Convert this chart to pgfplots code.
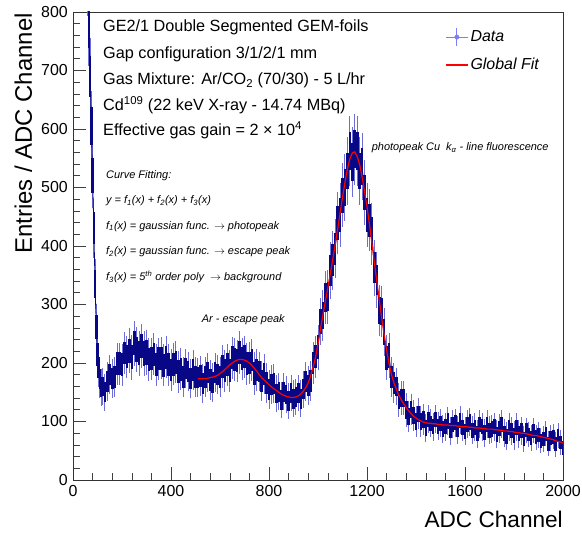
\documentclass[border=0pt]{standalone}
\usepackage{fontspec}
\setmainfont{Liberation Sans}
\usepackage{pgfplots}
\usepackage{pgfplotstable}
\pgfplotsset{compat=1.18}
\definecolor{dataLight}{RGB}{110,110,215}
\definecolor{dataDark}{RGB}{8,8,135}
\definecolor{dataLegend}{RGB}{125,125,250}
\definecolor{fitRed}{RGB}{255,0,0}

\pgfplotstableread{
x y e
60 860 28
65 775 28
70 690 27
75 605 25
80 520 23
85 430 21
90 335 18
95 262 16
100 215 15
105 192 14
110 172 13
115 158 13
120 160 13
130 150 13
140 168 14
150 180 14
160 174 14
170 176 14
180 199 15
190 199 15
200 197 15
210 217 15
220 211 15
230 221 16
240 210 16
250 234 16
260 223 16
270 217 16
280 229 16
290 216 16
300 218 16
310 206 15
320 207 15
330 215 15
340 197 15
350 207 15
360 208 15
370 196 15
380 210 15
390 197 15
400 188 15
410 198 15
420 201 15
430 185 15
440 189 15
450 176 14
460 191 14
470 186 14
480 174 14
490 188 14
500 176 14
510 175 14
520 178 14
530 165 14
540 176 14
550 184 14
560 171 14
570 167 14
580 184 14
590 180 14
600 176 14
610 194 15
620 187 15
630 197 15
640 187 15
650 209 15
660 206 15
670 204 15
680 218 15
690 207 15
700 211 15
710 199 15
720 200 15
730 205 15
740 182 15
750 188 15
760 185 14
770 169 14
780 181 14
790 166 14
800 155 14
810 163 14
820 165 14
830 148 13
840 151 13
850 137 13
860 151 13
870 146 13
880 135 13
890 149 13
900 139 13
910 142 13
920 149 13
930 139 13
940 155 13
950 168 14
960 162 14
970 169 14
980 200 15
990 211 15
1000 227 16
1010 271 17
1020 281 18
1030 312 19
1040 313 19
1050 358 20
1060 376 21
1070 395 21
1080 439 22
1090 453 23
1100 487 23
1110 500 24
1120 528 24
1130 563 25
1140 544 25
1150 565 25
1160 562 25
1170 528 24
1180 536 24
1190 491 23
1200 453 23
1210 444 22
1220 421 22
1230 363 20
1240 342 20
1250 290 18
1260 288 18
1270 253 17
1280 209 16
1290 213 16
1300 176 14
1310 166 14
1320 160 13
1330 137 12
1340 140 12
1350 140 12
1360 120 12
1370 109 11
1380 120 11
1390 110 11
1400 100 11
1410 113 11
1420 100 11
1430 104 11
1440 89 10
1450 104 10
1460 97 10
1470 91 10
1480 104 10
1490 92 10
1500 97 10
1510 87 10
1520 91 10
1530 101 10
1540 84 10
1550 95 10
1560 98 10
1570 86 10
1580 102 10
1590 90 10
1600 83 10
1610 95 10
1620 99 10
1630 85 10
1640 90 10
1650 79 10
1660 95 10
1670 91 10
1680 81 10
1690 95 10
1700 85 10
1710 87 10
1720 91 10
1730 78 10
1740 88 10
1750 95 10
1760 80 10
1770 75 10
1780 90 10
1790 84 10
1800 76 10
1810 90 10
1820 79 10
1830 84 10
1840 70 9
1850 85 9
1860 78 9
1870 72 9
1880 84 9
1890 73 9
1900 77 9
1910 67 9
1920 70 9
1930 79 9
1940 62 9
1950 72 9
1960 74 9
1970 61 9
1980 76 9
1990 64 9
2000 55 9
}\datatab

\pgfplotstableread{
x y
510 173
520 173
530 173
540 173
550 174
560 175
570 176
580 177
590 179
600 182
610 185
620 189
630 193
640 197
650 200
660 203
670 205
680 206
690 206
700 205
710 203
720 200
730 196
740 191
750 186
760 180
770 175
780 171
790 167
800 163
810 159
820 156
830 153
840 150
850 147
860 145
870 143
880 142
890 141
900 141
910 142
920 144
930 147
940 152
950 158
960 166
970 178
980 193
990 210
1000 233
1010 258
1020 282
1030 305
1040 328
1050 352
1060 377
1070 402
1080 428
1090 456
1100 483
1110 509
1120 532
1130 549
1140 559
1150 561
1160 553
1170 539
1180 518
1190 493
1200 467
1210 437
1220 405
1230 372
1240 340
1250 308
1260 277
1270 248
1280 222
1290 199
1300 180
1310 166
1320 155
1330 145
1340 137
1350 130
1360 124
1370 118
1380 113
1390 109
1400 106
1410 103
1420 101
1430 99
1440 98
1450 97
1460 97
1470 96
1480 96
1490 95
1500 95
1510 94
1520 94
1530 94
1540 93
1550 93
1560 93
1570 92
1580 92
1590 91
1600 91
1610 91
1620 90
1630 90
1640 89
1650 89
1660 89
1670 88
1680 88
1690 87
1700 87
1710 87
1720 86
1730 86
1740 85
1750 85
1760 84
1770 84
1780 83
1790 83
1800 82
1810 81
1820 81
1830 80
1840 80
1850 79
1860 78
1870 77
1880 76
1890 76
1900 75
1910 74
1920 73
1930 72
1940 71
1950 70
1960 69
1970 67
1980 66
1990 65
2000 63
}\fittab

\begin{document}
\begin{tikzpicture}
\useasboundingbox (-73bp,-55bp) rectangle (509bp,480bp);
\begin{axis}[
  at={(0,0)}, anchor=south west,
  scale only axis, width=490bp, height=468bp,
  xmin=0, xmax=2000, ymin=0, ymax=800,
  xtick={0,400,...,2000}, ytick={0,100,...,800},
  minor x tick num=4, minor y tick num=4,
  tick align=inside, tick pos=left,
  major tick length=13bp, minor tick length=7bp,
  every tick/.style={black!75, line width=0.6bp},
  axis line style={black!80, line width=0.7bp},
  scaled ticks=false,
  /pgf/number format/1000 sep={},
  /pgf/number format/assume math mode=true,
  tick label style={font=\fontsize{16}{19}\selectfont},
  yticklabel style={anchor=east, inner sep=0pt, xshift=-5bp},
  xticklabel style={anchor=north, inner sep=0pt, yshift=-5bp},
  legend style={at={(0.753,0.974)}, anchor=north west, draw=none, fill=none,
    font=\itshape\fontsize{16}{19}\selectfont, row sep=6bp,
    nodes={inner ysep=4.5bp},
    /tikz/every even column/.append style={column sep=6bp}},
  legend cell align=left,
]
\addlegendimage{legend image code/.code={
  \draw[dataLegend, line width=1bp] (0bp,0bp) -- (22bp,0bp);
  \draw[dataLegend, line width=1bp] (11bp,-9bp) -- (11bp,9bp);
  \fill[dataLegend] (11bp,0bp) circle (2.2bp);}}
\addlegendentry{Data}
\addlegendimage{legend image code/.code={
  \draw[fitRed, line width=1.4bp] (0bp,0bp) -- (22bp,0bp);}}
\addlegendentry{Global Fit}
\addplot[draw=none, mark=none, forget plot,
  error bars/.cd, y dir=both, y explicit, error mark=none,
  error bar style={draw=dataLight, line width=1.0bp}]
  table[x=x, y=y, y error expr=2.4*\thisrow{e}] {\datatab};
\addplot[draw=none, mark=none, forget plot,
  error bars/.cd, y dir=both, y explicit, error mark=none,
  error bar style={draw=dataDark, line width=2.6bp}]
  table[x=x, y=y, y error expr=1.3*\thisrow{e}] {\datatab};
\addplot[dataDark, line width=0.8bp, mark=none, forget plot] table[x=x, y=y] {\datatab};
\addplot[fitRed, line width=1.2bp, mark=none, forget plot] table[x=x, y=y] {\fittab};
\end{axis}
% axis titles
\node[rotate=90, anchor=base east, inner sep=0pt, font=\fontsize{24}{28}\selectfont] at (-41bp,467bp) {Entries / ADC Channel};
\node[anchor=base east, inner sep=0pt, font=\fontsize{22.7}{27}\selectfont] at (490bp,-47bp) {ADC Channel};
% info text
\begin{scope}[every node/.style={anchor=base west, inner sep=0pt, font=\fontsize{16.3}{19}\selectfont}]
\node at (30bp,448bp) {GE2/1 Double Segmented GEM-foils};
\node at (30bp,421.7bp) {Gap configuration 3/1/2/1 mm};
\node at (30bp,395bp) {Gas Mixture: Ar/CO\textsubscript{2} (70/30) - 5 L/hr};
\node at (30bp,369bp) {Cd\textsuperscript{109} (22 keV X-ray - 14.74 MBq)};
\node at (30bp,344bp) {Effective gas gain = 2 × 10\textsuperscript{4}};
\end{scope}
\begin{scope}[every node/.style={anchor=base west, inner sep=0pt, font=\itshape\fontsize{11}{13}\selectfont}]
\node at (33bp,301bp) {Curve Fitting:};
\node at (33bp,276bp) {y = f\textsubscript{1}(x) + f\textsubscript{2}(x) + f\textsubscript{3}(x)};
\node at (33bp,250.7bp) {f\textsubscript{1}(x) = gaussian func. $\rightarrow$ photopeak};
\node at (33bp,225.3bp) {f\textsubscript{2}(x) = gaussian func. $\rightarrow$ escape peak};
\node at (33bp,199.3bp) {f\textsubscript{3}(x) = 5\textsuperscript{th} order poly~~$\rightarrow$ background};
\node at (128.7bp,157bp) {Ar - escape peak};
\node at (298.7bp,329.3bp) {photopeak Cu~~k\textsubscript{α} - line fluorescence};
\end{scope}
\end{tikzpicture}
\end{document}
